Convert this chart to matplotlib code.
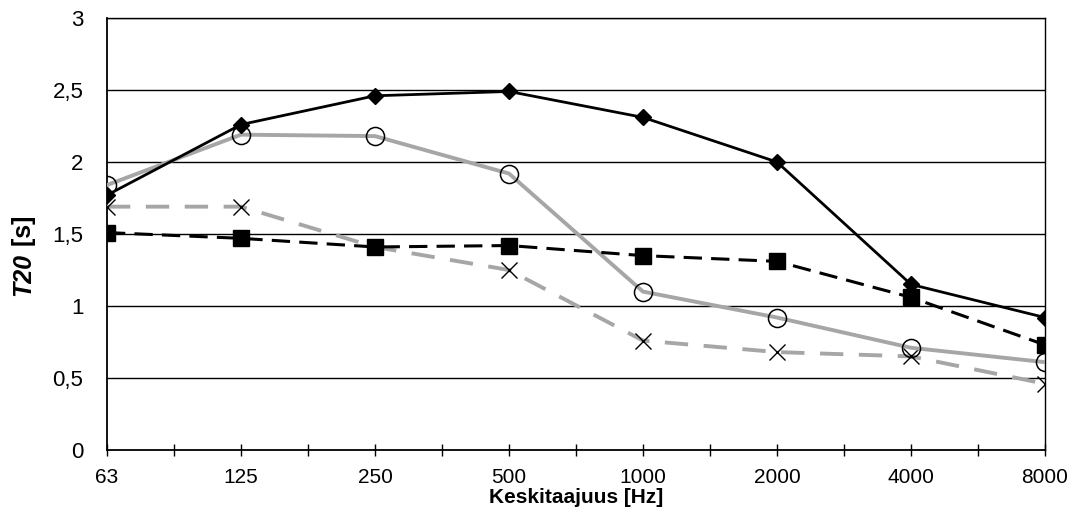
import numpy as np
import matplotlib.pyplot as plt

plt.rcParams['font.family'] = ['Liberation Sans', 'DejaVu Sans']

# Keskitaajuudet ja T20-arvot
taajuudet = ['63', '125', '250', '500', '1000', '2000', '4000', '8000']
sarja_vinoneliot = [1.77, 2.26, 2.46, 2.49, 2.31, 2.00, 1.15, 0.92]
sarja_ympyrat = [1.84, 2.19, 2.18, 1.92, 1.10, 0.92, 0.71, 0.61]
sarja_neliot = [1.51, 1.47, 1.41, 1.42, 1.35, 1.31, 1.06, 0.73]
sarja_ristit = [1.69, 1.69, 1.41, 1.25, 0.76, 0.68, 0.65, 0.46]
y_tikit = [0, 0.5, 1, 1.5, 2, 2.5, 3]

harmaa = '#a6a6a6'
x = np.arange(len(taajuudet))

fig = plt.figure(figsize=(10.75, 5.15), dpi=100)
ax = fig.add_axes([0.0995, 0.1262, 0.8726, 0.8388])

ax.plot(x, sarja_ristit, color=harmaa, lw=2.8, dashes=(6, 4), marker='x',
        ms=12, mec='black', mew=1, zorder=3)
ax.plot(x, sarja_ympyrat, color=harmaa, lw=2.8, marker='o', ms=13,
        mfc='none', mec='black', mew=1.1, zorder=3)
ax.plot(x, sarja_neliot, color='black', lw=2.2, dashes=(6, 3), marker='s',
        ms=11, zorder=4)
ax.plot(x, sarja_vinoneliot, color='black', lw=2, marker='D', ms=8,
        zorder=5)

ax.set_ylim(0, 3)
ax.set_xlim(0, len(taajuudet) - 1)
ax.set_yticks(y_tikit)
ax.set_yticklabels([('%g' % v).replace('.', ',') for v in y_tikit])
for v in y_tikit[1:]:
    ax.axhline(v, color='black', lw=1, zorder=1)

ax.set_xticks(x)
ax.set_xticklabels(taajuudet)
ax.set_xticks(np.arange(0.5, len(taajuudet) - 1, 1), minor=True)
ax.tick_params(axis='x', which='both', direction='inout', length=8, width=1,
               labelsize=15, pad=9)
ax.tick_params(axis='y', length=0, pad=17, labelsize=16)

for s in ax.spines.values():
    s.set_linewidth(1)
    s.set_color('black')
ax.spines['left'].set_linewidth(1.3)
ax.spines['bottom'].set_linewidth(1.3)

ax.set_xlabel('Keskitaajuus [Hz]', fontsize=15, fontweight='bold', labelpad=1)
fig.text(0.022, 0.508, 'T20', rotation=90, fontsize=18, fontweight='bold',
         fontstyle='italic', ha='center', va='top')
fig.text(0.022, 0.508, ' [s]', rotation=90, fontsize=18, fontweight='bold',
         ha='center', va='bottom')

fig.savefig('out.png', dpi=100)
